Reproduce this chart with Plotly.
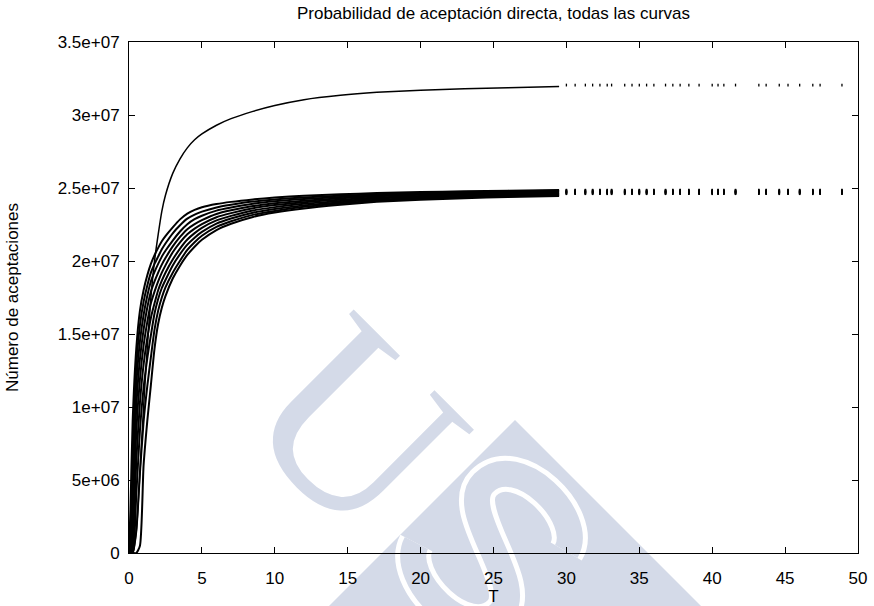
import plotly.graph_objects as go
import math

# ---------------- data (values in millions of acceptances) ----------------
T = [0.0, 0.1, 0.25, 0.5, 0.75, 1.0, 1.25, 1.5, 1.75, 2.0, 2.25, 2.5, 3.0, 3.5,
     4.0, 4.5, 5.0, 6.0, 7.0, 8.5, 10.0, 12.0, 14.5, 17.0, 20.0, 23.0, 26.0, 29.5]

top_curve = [0, 0, 0, 1.5, 5.5, 10.0, 14.0, 17.5, 20.0, 21.8, 23.4, 24.5, 26.0, 27.0,
             27.75, 28.3, 28.7, 29.3, 29.75, 30.25, 30.65, 31.05, 31.35, 31.55, 31.7,
             31.8, 31.87, 31.95]

b1 = [0, 3.0, 9.0, 14.0, 16.6, 18.0, 19.0, 19.8, 20.4, 20.9, 21.35, 21.7, 22.3, 22.85,
      23.25, 23.5, 23.68, 23.9, 24.05, 24.22, 24.35, 24.47, 24.57, 24.65, 24.72, 24.78,
      24.82, 24.87]
b2 = [0, 0.8, 7.0, 12.8, 15.6, 17.2, 18.3, 19.2, 19.8, 20.3, 20.8, 21.2, 21.9, 22.45,
      22.9, 23.18, 23.38, 23.67, 23.85, 24.07, 24.22, 24.35, 24.47, 24.58, 24.66, 24.72,
      24.77, 24.82]
b3 = [0, 0, 5.0, 11.5, 14.5, 16.3, 17.6, 18.6, 19.25, 19.8, 20.3, 20.7, 21.4, 22.02,
      22.52, 22.86, 23.1, 23.45, 23.66, 23.92, 24.09, 24.24, 24.38, 24.5, 24.59, 24.66,
      24.71, 24.77]
b4 = [0, 0, 3.0, 10.0, 13.3, 15.3, 16.8, 17.9, 18.6, 19.2, 19.75, 20.2, 21.0, 21.65,
      22.18, 22.53, 22.8, 23.22, 23.47, 23.76, 23.96, 24.13, 24.29, 24.43, 24.53, 24.6,
      24.66, 24.71]
b5 = [0, 0, 1.2, 8.3, 11.9, 14.2, 15.8, 17.1, 17.9, 18.6, 19.2, 19.7, 20.6, 21.28,
      21.83, 22.22, 22.53, 23.0, 23.28, 23.61, 23.83, 24.03, 24.2, 24.35, 24.46, 24.54,
      24.6, 24.66]
b6 = [0, 0, 0.3, 6.3, 10.3, 12.9, 14.7, 16.1, 17.1, 18.0, 18.65, 19.2, 20.1, 20.85,
      21.47, 21.91, 22.27, 22.78, 23.09, 23.46, 23.69, 23.92, 24.11, 24.28, 24.4, 24.48,
      24.55, 24.61]
b7 = [0, 0, 0, 4.0, 8.4, 11.3, 13.3, 14.9, 16.4, 17.4, 18.15, 18.7, 19.7, 20.47,
      21.12, 21.6, 21.99, 22.56, 22.91, 23.31, 23.56, 23.81, 24.03, 24.2, 24.33, 24.42,
      24.49, 24.56]
b8 = [0, 0, 0, 1.5, 5.5, 9.0, 11.4, 13.4, 15.3, 16.6, 17.5, 18.2, 19.2, 20.02,
      20.76, 21.29, 21.73, 22.34, 22.72, 23.16, 23.43, 23.71, 23.94, 24.13, 24.27, 24.36,
      24.44, 24.5]
b9 = [0, 0, 0, 0, 0.5, 6.0, 9.0, 11.5, 14.0, 15.7, 16.8, 17.6, 18.8, 19.68,
      20.42, 20.98, 21.45, 22.12, 22.55, 23.02, 23.32, 23.6, 23.85, 24.05, 24.2, 24.3,
      24.38, 24.45]
bundle = [b1, b2, b3, b4, b5, b6, b7, b8, b9]

# sparse tail samples (T > 30) and their plateau values per curve
T_tail = [30.0, 30.6, 31.3, 31.8, 32.3, 32.8, 33.1, 34.0, 34.5, 35.0, 35.5, 36.0,
          36.8, 37.3, 37.8, 38.4, 39.1, 40.0, 40.4, 40.8, 41.6, 43.2, 43.7, 44.6,
          45.2, 46.0, 46.9, 47.4, 48.9]
top_tail = 32.05
bundle_tail = [24.85, 24.82, 24.79, 24.76, 24.73, 24.70, 24.67, 24.64, 24.61]

SCALE = 1e6

x_ticks = [0, 5, 10, 15, 20, 25, 30, 35, 40, 45, 50]
y_ticks = [0, 5e6, 1e7, 1.5e7, 2e7, 2.5e7, 3e7, 3.5e7]
y_ticktext = ["0", "5e+06", "1e+07", "1.5e+07", "2e+07", "2.5e+07", "3e+07", "3.5e+07"]

title_text = "Probabilidad de aceptación directa, todas las curvas"
x_title = "T"
y_title = "Número de aceptaciones"

# ---------------- figure ----------------
W, H = 874, 606
ML, MR, MT, MB = 129, 16, 42, 53
PW, PH = W - ML - MR, H - MT - MB

fig = go.Figure()

all_curves = [top_curve] + bundle
all_tails = [top_tail] + bundle_tail
for i, (vals, tail) in enumerate(zip(all_curves, all_tails)):
    fig.add_trace(go.Scatter(
        x=T, y=[v * SCALE for v in vals], mode="lines",
        line=dict(color="black", width=1.5 if i == 0 else 2.0, shape="spline", smoothing=0.6),
        showlegend=False, hoverinfo="skip"))
    fig.add_trace(go.Scatter(
        x=T_tail, y=[tail * SCALE] * len(T_tail), mode="markers",
        marker=dict(symbol="line-ns-open", size=2, color="black",
                    line=dict(color="black", width=1.3 if i == 0 else 1.6)),
        showlegend=False, hoverinfo="skip"))

# ---------------- watermark (decorative) ----------------
WM = "#d4dae8"

def to_paper(px, py):
    return (px - ML) / PW, (MT + PH - py) / PH

def local_to_paper(cx, cy, u, v):
    s = 1 / math.sqrt(2)
    px = cx + (u + v) * s
    py = cy + (u - v) * s
    return to_paper(px, py)

# triangle
ax_, ay_ = to_paper(515, 420)
lx, ly = to_paper(515 - 260, 420 + 260)
rx, ry = to_paper(515 + 260, 420 + 260)
shapes = [dict(type="path", xref="paper", yref="paper", layer="below",
               path=f"M {ax_},{ay_} L {rx},{ry} L {lx},{ly} Z",
               fillcolor=WM, line=dict(width=0))]

# S glyph as stroked bezier (white outline + blue core)
s_pts = [(55, 50), (45, 88), (-52, 88), (-52, 40), (-52, 0), (52, 0), (52, -40),
         (52, -88), (-45, -88), (-57, -50)]
cxS, cyS = 492, 548
pp = [local_to_paper(cxS, cyS, u, v) for u, v in s_pts]
path = f"M {pp[0][0]},{pp[0][1]} " + " ".join(
    f"C {pp[k][0]},{pp[k][1]} {pp[k+1][0]},{pp[k+1][1]} {pp[k+2][0]},{pp[k+2][1]}"
    for k in (1, 4, 7))
shapes.append(dict(type="path", xref="paper", yref="paper", layer="below", path=path,
                   line=dict(color="white", width=36)))
shapes.append(dict(type="path", xref="paper", yref="paper", layer="below", path=path,
                   line=dict(color=WM, width=26)))

ux, uy = to_paper(358, 425)
annotations = [dict(text="U", x=ux, y=uy, xref="paper", yref="paper",
                    xanchor="center", yanchor="middle", showarrow=False,
                    textangle=45, font=dict(family="Liberation Serif", size=250, color=WM))]

fig.update_layout(
    width=W, height=H,
    margin=dict(l=ML, r=MR, t=MT, b=MB, autoexpand=False),
    paper_bgcolor="white", plot_bgcolor="rgba(0,0,0,0)",
    font=dict(family="Liberation Sans", color="black"),
    title=dict(text=title_text, x=(ML + PW / 2) / W, xanchor="center",
               y=1 - 13 / H, yanchor="middle", yref="container",
               font=dict(size=17, color="black")),
    shapes=shapes, annotations=annotations,
    xaxis=dict(range=[0, 50], tickvals=x_ticks, ticks="inside", ticklen=6,
               tickcolor="black", mirror="allticks", showline=True, linecolor="black",
               linewidth=1, showgrid=False, zeroline=False, automargin=False,
               tickfont=dict(size=17), ticklabelstandoff=10,
               title=dict(text=x_title, font=dict(size=17), standoff=4)),
    yaxis=dict(range=[0, 3.5e7], tickvals=y_ticks, ticktext=y_ticktext, ticks="inside",
               ticklen=6, tickcolor="black", mirror="allticks", showline=True,
               linecolor="black", linewidth=1, showgrid=False, zeroline=False,
               automargin=False, tickfont=dict(size=17), ticklabelstandoff=5,
               title=dict(text=y_title, font=dict(size=17), standoff=34)),
)

fig.write_html("out.html", config={"displayModeBar": False},
               post_script="document.body.style.margin='0px';")
